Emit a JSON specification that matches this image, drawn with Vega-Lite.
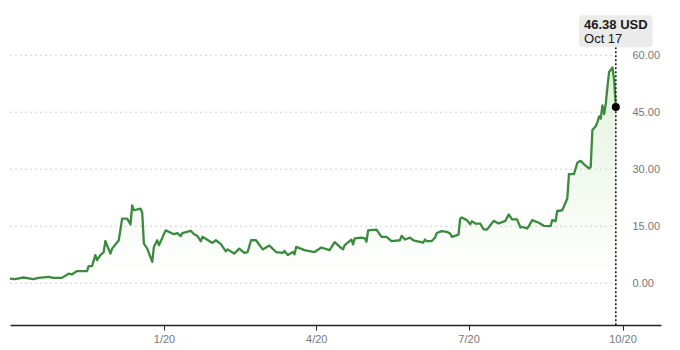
{
  "$schema": "https://vega.github.io/schema/vega-lite/v6.json",
  "width": 651,
  "height": 315,
  "autosize": {"type": "none"},
  "padding": {"left": 10, "top": 10, "right": 19, "bottom": 25},
  "background": "white",
  "config": {"view": {"stroke": null}, "font": "Liberation Sans"},
  "datasets": {
    "price": [
      {"date": "2019-10-01", "v": 1.2}, {"date": "2019-10-04", "v": 1.1}, {"date": "2019-10-09", "v": 1.5},
      {"date": "2019-10-15", "v": 1.05}, {"date": "2019-10-18", "v": 1.4}, {"date": "2019-10-24", "v": 1.65},
      {"date": "2019-10-27", "v": 1.4}, {"date": "2019-11-01", "v": 1.4}, {"date": "2019-11-05", "v": 2.5},
      {"date": "2019-11-07", "v": 2.3}, {"date": "2019-11-10", "v": 3.2}, {"date": "2019-11-16", "v": 3.2},
      {"date": "2019-11-17", "v": 4.5}, {"date": "2019-11-19", "v": 4.5}, {"date": "2019-11-21", "v": 7.4},
      {"date": "2019-11-22", "v": 6.05}, {"date": "2019-11-24", "v": 7.4}, {"date": "2019-11-26", "v": 8.2},
      {"date": "2019-11-27", "v": 11.1}, {"date": "2019-11-30", "v": 7.8}, {"date": "2019-12-01", "v": 9.1},
      {"date": "2019-12-05", "v": 11.3}, {"date": "2019-12-07", "v": 17.0}, {"date": "2019-12-10", "v": 17.0},
      {"date": "2019-12-12", "v": 15.5}, {"date": "2019-12-13", "v": 20.5}, {"date": "2019-12-14", "v": 19.2},
      {"date": "2019-12-18", "v": 19.6}, {"date": "2019-12-19", "v": 18.6}, {"date": "2019-12-20", "v": 10.4},
      {"date": "2019-12-22", "v": 9.1}, {"date": "2019-12-25", "v": 5.6}, {"date": "2019-12-26", "v": 9.6},
      {"date": "2019-12-28", "v": 11.3}, {"date": "2019-12-29", "v": 10.0}, {"date": "2020-01-02", "v": 13.9},
      {"date": "2020-01-07", "v": 12.9}, {"date": "2020-01-09", "v": 13.2}, {"date": "2020-01-11", "v": 12.4},
      {"date": "2020-01-12", "v": 13.2}, {"date": "2020-01-17", "v": 13.8}, {"date": "2020-01-19", "v": 12.9},
      {"date": "2020-01-21", "v": 12.4}, {"date": "2020-01-23", "v": 11.05}, {"date": "2020-01-24", "v": 12.2},
      {"date": "2020-01-30", "v": 10.6}, {"date": "2020-02-01", "v": 11.3}, {"date": "2020-02-04", "v": 10.3},
      {"date": "2020-02-07", "v": 8.4}, {"date": "2020-02-08", "v": 8.9}, {"date": "2020-02-12", "v": 7.8},
      {"date": "2020-02-15", "v": 9.1}, {"date": "2020-02-18", "v": 8.0}, {"date": "2020-02-20", "v": 8.2},
      {"date": "2020-02-22", "v": 11.3}, {"date": "2020-02-25", "v": 11.3}, {"date": "2020-02-29", "v": 8.9},
      {"date": "2020-03-04", "v": 9.9}, {"date": "2020-03-08", "v": 8.2}, {"date": "2020-03-12", "v": 8.0},
      {"date": "2020-03-13", "v": 8.5}, {"date": "2020-03-15", "v": 7.45}, {"date": "2020-03-18", "v": 8.2},
      {"date": "2020-03-19", "v": 7.6}, {"date": "2020-03-20", "v": 9.55}, {"date": "2020-03-25", "v": 8.7},
      {"date": "2020-03-31", "v": 8.2}, {"date": "2020-04-04", "v": 9.4}, {"date": "2020-04-09", "v": 8.7},
      {"date": "2020-04-12", "v": 10.8}, {"date": "2020-04-15", "v": 9.6}, {"date": "2020-04-17", "v": 8.9},
      {"date": "2020-04-18", "v": 10.0}, {"date": "2020-04-22", "v": 11.5}, {"date": "2020-04-23", "v": 10.2},
      {"date": "2020-04-24", "v": 11.8}, {"date": "2020-04-28", "v": 12.0}, {"date": "2020-04-30", "v": 11.8},
      {"date": "2020-05-01", "v": 10.9}, {"date": "2020-05-02", "v": 13.9}, {"date": "2020-05-07", "v": 14.1},
      {"date": "2020-05-10", "v": 12.2}, {"date": "2020-05-13", "v": 12.2}, {"date": "2020-05-16", "v": 11.1},
      {"date": "2020-05-21", "v": 11.3}, {"date": "2020-05-22", "v": 12.45}, {"date": "2020-05-24", "v": 11.5},
      {"date": "2020-05-27", "v": 12.0}, {"date": "2020-05-29", "v": 11.3}, {"date": "2020-06-04", "v": 10.7},
      {"date": "2020-06-05", "v": 11.5}, {"date": "2020-06-06", "v": 11.05}, {"date": "2020-06-09", "v": 11.1},
      {"date": "2020-06-11", "v": 12.0}, {"date": "2020-06-12", "v": 13.2}, {"date": "2020-06-15", "v": 13.7},
      {"date": "2020-06-18", "v": 13.5}, {"date": "2020-06-20", "v": 13.1}, {"date": "2020-06-21", "v": 12.2},
      {"date": "2020-06-25", "v": 12.8}, {"date": "2020-06-26", "v": 17.0}, {"date": "2020-06-27", "v": 17.3},
      {"date": "2020-06-30", "v": 16.6}, {"date": "2020-07-02", "v": 15.5}, {"date": "2020-07-03", "v": 16.3},
      {"date": "2020-07-05", "v": 15.7}, {"date": "2020-07-08", "v": 15.7}, {"date": "2020-07-10", "v": 14.2},
      {"date": "2020-07-12", "v": 14.1}, {"date": "2020-07-13", "v": 14.65}, {"date": "2020-07-16", "v": 16.4},
      {"date": "2020-07-19", "v": 15.7}, {"date": "2020-07-23", "v": 16.4}, {"date": "2020-07-25", "v": 18.1},
      {"date": "2020-07-27", "v": 16.8}, {"date": "2020-07-30", "v": 16.8}, {"date": "2020-08-01", "v": 14.65},
      {"date": "2020-08-02", "v": 14.8}, {"date": "2020-08-05", "v": 14.4}, {"date": "2020-08-06", "v": 15.0},
      {"date": "2020-08-08", "v": 16.6}, {"date": "2020-08-12", "v": 15.9}, {"date": "2020-08-15", "v": 15.1},
      {"date": "2020-08-19", "v": 15.0}, {"date": "2020-08-20", "v": 16.6}, {"date": "2020-08-22", "v": 16.3},
      {"date": "2020-08-23", "v": 19.0}, {"date": "2020-08-26", "v": 19.2}, {"date": "2020-08-29", "v": 22.3},
      {"date": "2020-08-30", "v": 28.7}, {"date": "2020-09-02", "v": 28.7}, {"date": "2020-09-04", "v": 31.7},
      {"date": "2020-09-06", "v": 32.2}, {"date": "2020-09-08", "v": 31.3}, {"date": "2020-09-11", "v": 30.2},
      {"date": "2020-09-12", "v": 30.6}, {"date": "2020-09-13", "v": 40.3}, {"date": "2020-09-15", "v": 41.3},
      {"date": "2020-09-16", "v": 42.4}, {"date": "2020-09-17", "v": 43.9}, {"date": "2020-09-18", "v": 43.3},
      {"date": "2020-09-19", "v": 46.8}, {"date": "2020-09-20", "v": 44.5}, {"date": "2020-09-21", "v": 47.3},
      {"date": "2020-09-22", "v": 51.7}, {"date": "2020-09-23", "v": 55.6}, {"date": "2020-09-25", "v": 56.8},
      {"date": "2020-09-26", "v": 53.4}, {"date": "2020-09-27", "v": 46.38}
    ],
    "last": [{"date": "2020-09-27", "v": 46.38, "price": "46.38 USD", "day": "Oct 17"}],
    "grid": [{"v": 0}, {"v": 15}, {"v": 30}, {"v": 45}, {"v": 60}]
  },
  "layer": [
    {
      "data": {"name": "price"},
      "mark": {"type": "area", "color": {"gradient": "linear", "x1": 0, "y1": 0, "x2": 0, "y2": 1,
               "stops": [{"offset": 0, "color": "#e4f2de"}, {"offset": 1, "color": "#ffffff"}]}},
      "encoding": {
        "x": {"field": "date", "type": "temporal",
              "scale": {"type": "utc", "domain": [{"year": 2019, "month": 10, "date": 1, "utc": true}, {"year": 2020, "month": 10, "date": 24, "utc": true}]},
              "axis": {"values": [{"year": 2020, "month": 1, "date": 1, "utc": true}, {"year": 2020, "month": 4, "date": 1, "utc": true}, {"year": 2020, "month": 7, "date": 1, "utc": true}, {"year": 2020, "month": 10, "date": 1, "utc": true}],
                       "labelExpr": "utcFormat(datum.value, '%-m/%y')", "domainColor": "#222222", "domainWidth": 1.3, "tickColor": "#222222", "tickSize": 5,
                       "labelPadding": 3, "labelFontSize": 11, "labelColor": "#777777", "labelFont": "Liberation Sans", "grid": false, "title": null}},
        "y": {"field": "v", "type": "quantitative", "scale": {"domain": [-11, 71.9], "nice": false, "zero": false},
              "axis": {"orient": "right", "offset": -29, "labelPadding": 0, "labelAlign": "left", "ticks": false, "domain": false, "grid": false,
                       "values": [0, 15, 30, 45, 60], "format": ".2f", "labelFontSize": 11, "labelColor": "#777777", "labelFont": "Liberation Sans", "title": null}}
      }
    },
    {
      "data": {"name": "grid"},
      "mark": {"type": "rule", "color": "#cfcfcf", "strokeDash": [2, 3], "strokeWidth": 1},
      "encoding": {
        "x": {"datum": {"year": 2019, "month": 10, "date": 1, "utc": true}, "type": "temporal"},
        "x2": {"datum": {"year": 2020, "month": 9, "date": 25, "utc": true}},
        "y": {"field": "v", "type": "quantitative"}
      }
    },
    {
      "data": {"name": "price"},
      "mark": {"type": "line", "color": "#3b8b3e", "strokeWidth": 2.3, "strokeJoin": "round"},
      "encoding": {
        "x": {"field": "date", "type": "temporal"},
        "y": {"field": "v", "type": "quantitative"}
      }
    },
    {
      "data": {"name": "last"},
      "mark": {"type": "rule", "color": "#111111", "strokeDash": [2, 2], "strokeWidth": 1.5},
      "encoding": {
        "x": {"field": "date", "type": "temporal"},
        "y": {"datum": 62.1, "type": "quantitative"},
        "y2": {"datum": -11.4}
      }
    },
    {
      "data": {"name": "last"},
      "mark": {"type": "point", "filled": true, "color": "#000000", "size": 65, "opacity": 1},
      "encoding": {
        "x": {"field": "date", "type": "temporal"},
        "y": {"field": "v", "type": "quantitative"}
      }
    },
    {
      "data": {"name": "last"},
      "mark": {"type": "rect", "color": "#ebebeb", "cornerRadius": 3},
      "encoding": {
        "x": {"datum": {"year": 2020, "month": 9, "date": 5, "utc": true}, "type": "temporal"},
        "x2": {"datum": {"year": 2020, "month": 10, "date": 19, "utc": true}},
        "y": {"datum": 70.5, "type": "quantitative"},
        "y2": {"datum": 62.1}
      }
    },
    {
      "data": {"name": "last"},
      "mark": {"type": "text", "align": "left", "baseline": "alphabetic", "fontSize": 13, "fontWeight": "bold", "color": "#1a1a1a", "font": "Liberation Sans"},
      "encoding": {
        "x": {"datum": {"year": 2020, "month": 9, "date": 8, "utc": true}, "type": "temporal"},
        "y": {"datum": 66.8, "type": "quantitative"},
        "text": {"field": "price"}
      }
    },
    {
      "data": {"name": "last"},
      "mark": {"type": "text", "align": "left", "baseline": "alphabetic", "fontSize": 13, "color": "#1a1a1a", "font": "Liberation Sans"},
      "encoding": {
        "x": {"datum": {"year": 2020, "month": 9, "date": 8, "utc": true}, "type": "temporal"},
        "y": {"datum": 63.2, "type": "quantitative"},
        "text": {"field": "day"}
      }
    }
  ]
}
